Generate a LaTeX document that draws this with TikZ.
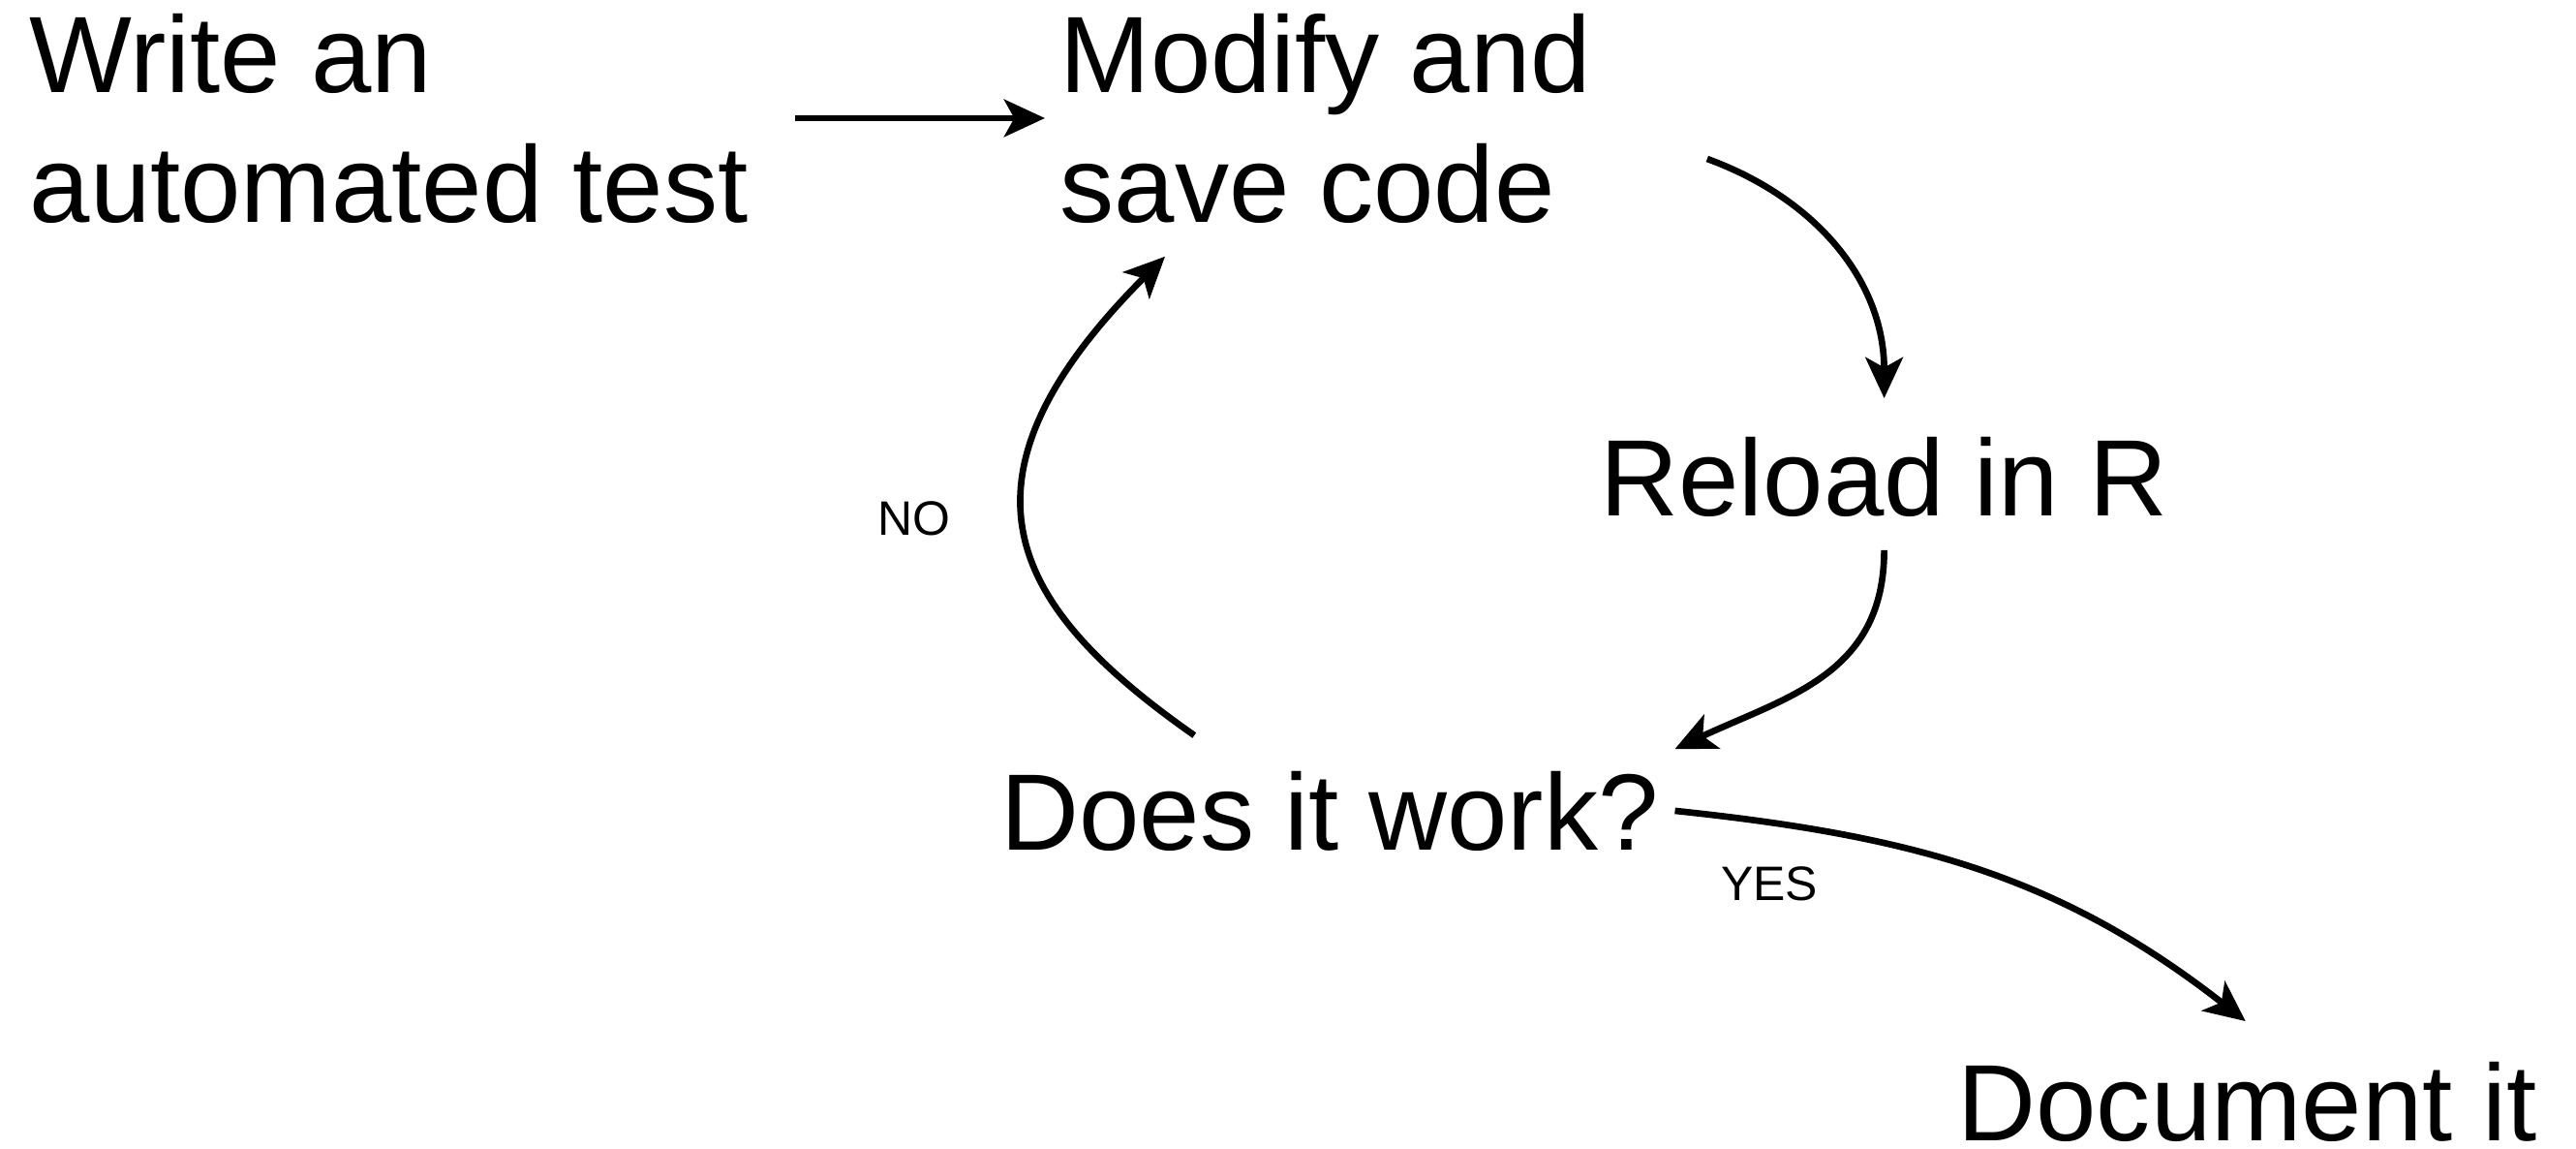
\documentclass[tikz,border=0pt]{standalone}
\usepackage{fontspec}
\setmainfont{Liberation Sans}
\usetikzlibrary{arrows.meta}

\begin{document}
\begin{tikzpicture}[
  lbl/.style={anchor=base west, inner sep=0pt, align=left, font=\fontsize{31.9}{38.1}\selectfont},
  small/.style={inner sep=0pt, font=\fontsize{14.2}{17}\selectfont},
  arr/.style={line width=1.9pt, -{Stealth[length=12pt, width=11pt, inset=3pt]}}]
\useasboundingbox (0,0) rectangle (26.6,11.85);

\node [lbl] (write) at (0.30,9.56) {Write an\\automated test};
\node [lbl] (modify) at (10.94,9.56) {Modify and\\save code};
\node [lbl] (reload) at (16.52,6.53) {Reload in R};
\node [lbl] (works) at (10.33,3.08) {Does it work?};
\node [lbl] (doc) at (20.21,0.08) {Document it};
\node [small] (no) at (9.44,6.50) {NO};
\node [small] (yes) at (18.27,2.73) {YES};

\draw [arr] ([xshift=0.48cm]write.east) -- ([xshift=-0.15cm]modify.west);
\draw [arr] ([shift={(1.19,-0.42)}]modify.east) to [out=-20, in=90] ([yshift=0.39cm]reload.north);
\draw [arr] ([yshift=-0.34cm]reload.south) to [out=-90, in=25, looseness=1.1] ([shift={(0.16,0.22)}]works.north east);
\draw [arr] ([shift={(-1.40,0.36)}]works.north) to [out=145, in=-135, out looseness=1.2, in looseness=1.7] ([shift={(1.09,-0.34)}]modify.south west);
\draw [arr] ([xshift=0.16cm]works.east) to [out=-6, in=142] ([shift={(-0.02,0.41)}]doc.north);

\end{tikzpicture}
\end{document}
